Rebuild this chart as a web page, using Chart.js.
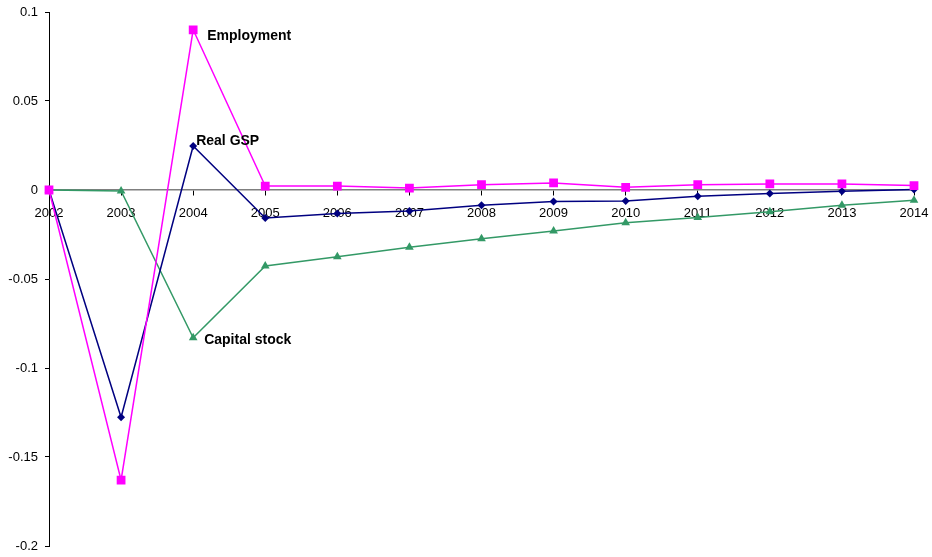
<!DOCTYPE html>
<html>
<head>
<meta charset="utf-8">
<script src="https://cdn.jsdelivr.net/npm/chart.js@4/dist/chart.umd.min.js"></script>
<style>
  html, body { margin: 0; padding: 0; background: #ffffff; }
  #wrap { width: 932px; height: 557px; }
</style>
</head>
<body>
<div id="wrap"><canvas id="c" width="932" height="557"></canvas></div>
<script>
// Years on the horizontal axis
const years = ['2002','2003','2004','2005','2006','2007','2008','2009','2010','2011','2012','2013','2014'];

// Deviations from baseline for each series
const employment = [0, -0.163, 0.090, 0.0022, 0.0022, 0.0011, 0.0030, 0.0040, 0.0015, 0.0030, 0.0034, 0.0034, 0.0025];
const realGSP = [0, -0.1277, 0.0247, -0.0157, -0.0132, -0.0118, -0.0085, -0.0064, -0.0062, -0.0035, -0.0020, -0.0007, 0.0003];
const capitalStock = [0, -0.0005, -0.0830, -0.0427, -0.0375, -0.0322, -0.0274, -0.0230, -0.0184, -0.0154, -0.0122, -0.0085, -0.0057];

// Series names, written next to their 2004 point
const seriesNames = ['Employment', 'Real GSP', 'Capital stock'];
const labelIndex = 2;

const labelPlugin = {
  id: 'seriesLabels',
  afterDatasetsDraw(chart) {
    const ctx = chart.ctx;
    const offsets = [[14, 6], [3, -5], [11, 2]];
    ctx.save();
    ctx.font = 'bold 14px "Liberation Sans", Arial, sans-serif';
    ctx.fillStyle = '#000000';
    ctx.textAlign = 'left';
    ctx.textBaseline = 'middle';
    chart.data.datasets.forEach((ds, i) => {
      const pt = chart.getDatasetMeta(i).data[labelIndex];
      if (!pt) return;
      ctx.fillText(seriesNames[i], pt.x + offsets[i][0], pt.y + offsets[i][1]);
    });
    ctx.restore();
  }
};

new Chart(document.getElementById('c'), {
  type: 'line',
  data: {
    labels: years,
    datasets: [
      {
        label: seriesNames[0],
        data: employment,
        borderColor: '#ff00ff',
        backgroundColor: '#ff00ff',
        borderWidth: 1.5,
        pointStyle: 'rect',
        pointRadius: 6.2,
        pointBorderWidth: 0,
        tension: 0
      },
      {
        label: seriesNames[1],
        data: realGSP,
        borderColor: '#000080',
        backgroundColor: '#000080',
        borderWidth: 1.5,
        pointStyle: 'rectRot',
        pointRadius: 4,
        pointBorderWidth: 0,
        tension: 0
      },
      {
        label: seriesNames[2],
        data: capitalStock,
        borderColor: '#339966',
        backgroundColor: '#339966',
        borderWidth: 1.5,
        pointStyle: 'triangle',
        pointRadius: 5,
        pointBorderWidth: 0,
        tension: 0
      }
    ]
  },
  options: {
    responsive: false,
    animation: false,
    layout: { padding: { top: 12, right: 18, bottom: 11, left: 0 } },
    plugins: {
      legend: { display: false },
      tooltip: { enabled: false }
    },
    scales: {
      x: {
        type: 'category',
        position: { y: 0 },
        offset: false,
        afterFit(scale) {
          scale.height = 0;
          scale.paddingLeft = 0;
          scale.paddingRight = 0;
        },
        grid: {
          drawOnChartArea: false,
          drawTicks: true,
          tickLength: 5,
          tickColor: '#000000',
          tickWidth: 1
        },
        border: { display: true, color: '#7f7f7f', width: 1.5 },
        ticks: {
          color: '#000000',
          padding: 11,
          maxRotation: 0,
          autoSkip: false,
          font: { family: '"Liberation Sans", Arial, sans-serif', size: 13 }
        }
      },
      y: {
        min: -0.2,
        max: 0.1,
        afterFit(scale) {
          scale.width = 49;
          scale.paddingTop = 0;
          scale.paddingBottom = 0;
        },
        ticks: {
          stepSize: 0.05,
          color: '#000000',
          padding: 7,
          font: { family: '"Liberation Sans", Arial, sans-serif', size: 13 },
          callback: (v) => {
            const r = Math.round(v * 100) / 100;
            return r === 0 ? '0' : String(r);
          }
        },
        grid: {
          drawOnChartArea: false,
          drawTicks: true,
          tickLength: 4,
          tickColor: '#000000',
          tickWidth: 1
        },
        border: { display: true, color: '#000000', width: 1 }
      }
    }
  },
  plugins: [labelPlugin]
});
</script>
</body>
</html>
